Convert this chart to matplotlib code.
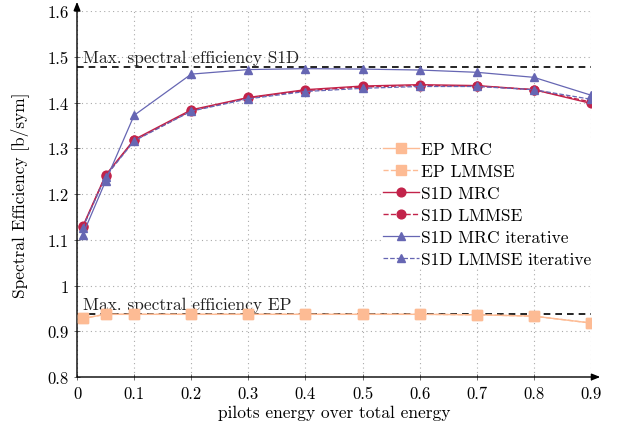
import matplotlib
matplotlib.use("Agg")
import matplotlib.pyplot as plt

x = [0.01, 0.05, 0.1, 0.2, 0.3, 0.4, 0.5, 0.6, 0.7, 0.8, 0.9]
ep_mrc = [0.928, 0.937, 0.937, 0.937, 0.937, 0.937, 0.937, 0.937, 0.936, 0.933, 0.918]
ep_lmmse = [0.928, 0.937, 0.937, 0.937, 0.937, 0.937, 0.937, 0.937, 0.936, 0.933, 0.918]
s1d_mrc = [1.129, 1.241, 1.319, 1.384, 1.411, 1.428, 1.436, 1.439, 1.437, 1.428, 1.398]
s1d_lmmse = [1.127, 1.240, 1.317, 1.382, 1.410, 1.426, 1.434, 1.437, 1.436, 1.428, 1.401]
s1d_mrc_it = [1.111, 1.228, 1.372, 1.462, 1.472, 1.474, 1.473, 1.471, 1.466, 1.455, 1.416]
s1d_lmmse_it = [1.126, 1.238, 1.316, 1.381, 1.408, 1.424, 1.431, 1.435, 1.435, 1.428, 1.407]
max_s1d = 1.477
max_ep = 0.9377

xticks = [0, 0.1, 0.2, 0.3, 0.4, 0.5, 0.6, 0.7, 0.8, 0.9]
xticklabels = ["0", "0.1", "0.2", "0.3", "0.4", "0.5", "0.6", "0.7", "0.8", "0.9"]
yticks = [0.8, 0.9, 1.0, 1.1, 1.2, 1.3, 1.4, 1.5, 1.6]
yticklabels = ["0.8", "0.9", "1", "1.1", "1.2", "1.3", "1.4", "1.5", "1.6"]

plt.rcParams['font.family'] = ['cmr10', 'DejaVu Serif']
plt.rcParams['mathtext.fontset'] = 'cm'
plt.rcParams['axes.unicode_minus'] = False

c_ep = '#fdbb94'
c_s1d = '#c2234a'
c_it = '#6666b3'

fig = plt.figure(figsize=(6.21, 4.35), dpi=100)
ax = fig.add_axes([77/621, 1-378/435, (591-77)/621, (378-12)/435])

ax.plot([0, 0.9], [max_s1d, max_s1d], 'k--', lw=1.2, dashes=(4, 3), zorder=3)
ax.plot([0, 0.9], [max_ep, max_ep], 'k--', lw=1.2, dashes=(4, 3), zorder=3)

ax.plot(x, ep_mrc, '-', color=c_ep, marker='s', ms=6.5, lw=1.0, label='EP MRC', zorder=4)
ax.plot(x, ep_lmmse, '--', color=c_ep, marker='s', ms=6.5, lw=1.0, label='EP LMMSE', zorder=4)
ax.plot(x, s1d_mrc, '-', color=c_s1d, marker='o', ms=6.3, lw=1.0, label='S1D MRC', zorder=5)
ax.plot(x, s1d_lmmse, '--', color=c_s1d, marker='o', ms=6.3, lw=1.0, label='S1D LMMSE', zorder=5)
ax.plot(x, s1d_mrc_it, '-', color=c_it, marker='^', ms=5.5, lw=0.9, label='S1D MRC iterative', zorder=6)
ax.plot(x, s1d_lmmse_it, '--', color=c_it, marker='^', ms=5.5, lw=0.9, label='S1D LMMSE iterative', zorder=6)

ax.text(0.01, max_s1d + 0.005, 'Max. spectral efficiency S1D', fontsize=12.5, va='bottom', ha='left', color='#222222')
ax.text(0.01, max_ep + 0.005, 'Max. spectral efficiency EP', fontsize=12.5, va='bottom', ha='left', color='#222222')

ax.set_xlim(0, 0.9)
ax.set_ylim(0.8, 1.6)
ax.set_xticks(xticks)
ax.set_xticklabels(xticklabels)
ax.set_yticks(yticks)
ax.set_yticklabels(yticklabels)
ax.tick_params(direction='inout', length=5, width=0.6, labelsize=12, color='#555555')
ax.grid(True, linestyle=(0, (1, 3)), color='#aaaaaa', lw=0.8)
ax.set_axisbelow(True)

for s in ['top', 'right', 'left', 'bottom']:
    ax.spines[s].set_visible(False)

ax.annotate('', xy=(1.018, 0), xytext=(0, 0), xycoords='axes fraction',
            arrowprops=dict(arrowstyle='-|>,head_length=0.5,head_width=0.2', lw=1.0, color='black',
                            shrinkA=0, shrinkB=0), annotation_clip=False)
ax.annotate('', xy=(0, 1.025), xytext=(0, 0), xycoords='axes fraction',
            arrowprops=dict(arrowstyle='-|>,head_length=0.5,head_width=0.2', lw=1.0, color='black',
                            shrinkA=0, shrinkB=0), annotation_clip=False)

ax.set_xlabel('pilots energy over total energy', fontsize=12.5, labelpad=3)
ax.set_ylabel('Spectral Efficiency [b/sym]', fontsize=12.5, labelpad=13)

leg = ax.legend(loc='upper left', bbox_to_anchor=((381-77)/514, (378-141)/366), fontsize=12.5,
                frameon=True, facecolor='white', edgecolor='none', framealpha=1.0,
                handlelength=2.1, handletextpad=0.1, labelspacing=0.38, borderpad=0.1,
                borderaxespad=0, fancybox=False)

fig.savefig('out.png', dpi=100)
